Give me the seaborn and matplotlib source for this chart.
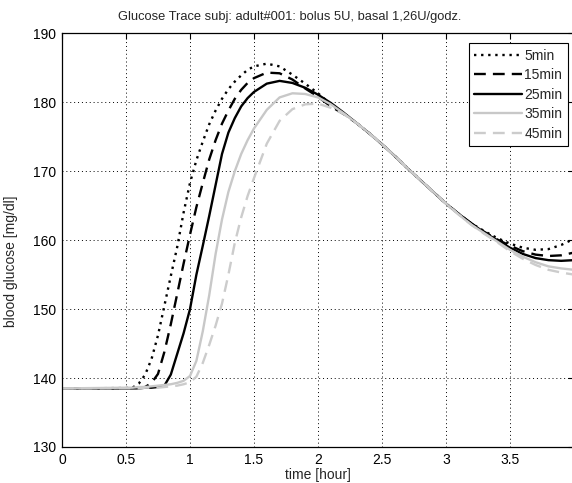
import matplotlib
matplotlib.use("Agg")
import matplotlib.pyplot as plt
import seaborn as sns
import pandas as pd
from matplotlib.ticker import FuncFormatter

# ---- data ----
time_h = [0, 0.5, 0.55, 0.6, 0.65, 0.7, 0.75, 0.8, 0.85, 0.9, 0.95, 1.0, 1.05, 1.1,
          1.15, 1.2, 1.25, 1.3, 1.35, 1.4, 1.45, 1.5, 1.6, 1.7, 1.8, 1.9, 2.0, 2.1,
          2.2, 2.3, 2.4, 2.5, 2.6, 2.7, 2.8, 2.9, 3.0, 3.1, 3.2, 3.3, 3.4, 3.5, 3.6,
          3.7, 3.8, 3.9, 4.0]

bg_5min = [138.5, 138.55, 138.6, 139.2, 140.5, 142.8, 146.2, 150.5, 154.8, 159.0, 164.0,
           168.3, 171.6, 174.3, 176.8, 178.8, 180.5, 181.9, 183.0, 183.9, 184.7, 185.2,
           185.6, 185.2, 184.0, 182.7, 181.3, 179.7, 178.4, 177.0, 175.5, 173.9, 172.2,
           170.4, 168.7, 167.0, 165.3, 163.8, 162.4, 161.3, 160.3, 159.5, 158.9, 158.6,
           158.7, 159.3, 160.2]

bg_15min = [138.5, 138.5, 138.5, 138.6, 138.7, 139.3, 140.6, 143.8, 147.8, 152.2, 156.6,
            160.8, 164.8, 168.3, 171.7, 174.5, 176.9, 178.8, 180.5, 181.8, 182.8, 183.5,
            184.3, 184.2, 183.3, 182.0, 180.8, 179.4, 178.3, 177.0, 175.5, 173.9, 172.2,
            170.4, 168.7, 167.0, 165.3, 163.8, 162.4, 161.2, 160.1, 159.2, 158.4, 157.9,
            157.7, 157.8, 158.2]

bg_25min = [138.5, 138.5, 138.5, 138.5, 138.6, 138.6, 138.7, 138.9, 140.5, 143.5, 146.5,
            150.0, 155.0, 159.2, 163.5, 168.0, 172.5, 175.6, 177.7, 179.4, 180.6, 181.5,
            182.7, 183.1, 182.8, 182.1, 181.1, 179.9, 178.5, 177.0, 175.5, 173.9, 172.2,
            170.4, 168.7, 167.0, 165.3, 163.8, 162.4, 161.1, 160.0, 158.9, 158.0, 157.4,
            157.1, 157.0, 157.1]

bg_35min = [138.5, 138.6, 138.6, 138.7, 138.7, 138.8, 138.9, 139.0, 139.1, 139.3, 139.6,
            140.3, 142.5, 146.8, 152.0, 158.0, 163.0, 167.0, 170.0, 172.5, 174.5, 176.2,
            178.9, 180.7, 181.3, 181.2, 180.7, 179.7, 178.4, 177.0, 175.5, 173.9, 172.2,
            170.4, 168.7, 167.0, 165.3, 163.7, 162.2, 161.0, 159.8, 158.6, 157.6, 156.8,
            156.2, 155.9, 155.7]

bg_45min = [138.5, 138.5, 138.5, 138.5, 138.6, 138.6, 138.6, 138.7, 138.8, 138.9, 139.1,
            139.4, 140.2, 142.2, 144.8, 147.6, 150.8, 155.0, 159.6, 163.3, 166.4, 169.0,
            174.0, 177.3, 179.0, 179.7, 179.8, 179.2, 178.3, 177.0, 175.5, 173.9, 172.2,
            170.4, 168.7, 167.0, 165.3, 163.7, 162.2, 160.9, 159.7, 158.4, 157.3, 156.4,
            155.7, 155.3, 155.0]

series_labels = ["5min", "15min", "25min", "35min", "45min"]
x_ticks = [0, 0.5, 1, 1.5, 2, 2.5, 3, 3.5]
y_ticks = [130, 140, 150, 160, 170, 180, 190]

title_text = "Glucose Trace subj: adult#001: bolus 5U, basal 1,26U/godz."
x_label = "time [hour]"
y_label = "blood glucose [mg/dl]"

# ---- build long table ----
frames = []
for lab, vals in zip(series_labels, [bg_5min, bg_15min, bg_25min, bg_35min, bg_45min]):
    frames.append(pd.DataFrame({"time": time_h, "bg": vals, "series": lab}))
df = pd.concat(frames, ignore_index=True)

styles = {
    "5min": dict(color="black", linestyle=(0, (1, 2))),
    "15min": dict(color="black", linestyle=(0, (5, 3))),
    "25min": dict(color="black", linestyle="-"),
    "35min": dict(color="#c8c8c8", linestyle="-"),
    "45min": dict(color="#cccccc", linestyle=(0, (5, 3))),
}

sns.set_style("white")
plt.rcParams["font.family"] = ["Liberation Sans", "DejaVu Sans"]

fig = plt.figure(figsize=(5.72, 4.83), dpi=100)
fig.patch.set_facecolor("white")
ax = fig.add_axes([62 / 572, 1 - 447 / 483, 512 / 572, (447 - 33.3) / 483])

for lab in series_labels:
    sub = df[df["series"] == lab]
    sns.lineplot(data=sub, x="time", y="bg", ax=ax, label=lab, linewidth=1.7,
                 sort=False, estimator=None, **styles[lab])

ax.set_xlim(0, 4)
ax.set_ylim(130, 190)
ax.set_xticks(x_ticks)
ax.set_yticks(y_ticks)
ax.xaxis.set_major_formatter(FuncFormatter(lambda v, p: f"{v:g}"))
ax.tick_params(direction="in", length=4, width=0.8, top=True, right=True,
               labelsize=10, colors="black", pad=4)
ax.grid(True, linestyle=(0, (1, 3)), color="black", linewidth=0.7)
for s in ax.spines.values():
    s.set_visible(True)
    s.set_color("black")
    s.set_linewidth(0.9)

ax.set_xlabel(x_label, fontsize=10, labelpad=1)
ax.set_ylabel(y_label, fontsize=10)
ax.yaxis.set_label_coords(-0.085, 0.45)

fig.text(290 / 572, 1 - 17 / 483, title_text, ha="center", va="center", fontsize=9.3)

leg = ax.legend(loc="upper right", bbox_to_anchor=((568 - 62) / 512, 1 - (43 - 33.3) / 414),
                frameon=True, fancybox=False, edgecolor="black", framealpha=1,
                fontsize=10, handlelength=3.4, handletextpad=0.2, borderpad=0.4,
                labelspacing=0.4, borderaxespad=0)
leg.get_frame().set_linewidth(0.8)

fig.savefig("out.png", dpi=100, facecolor="white")
